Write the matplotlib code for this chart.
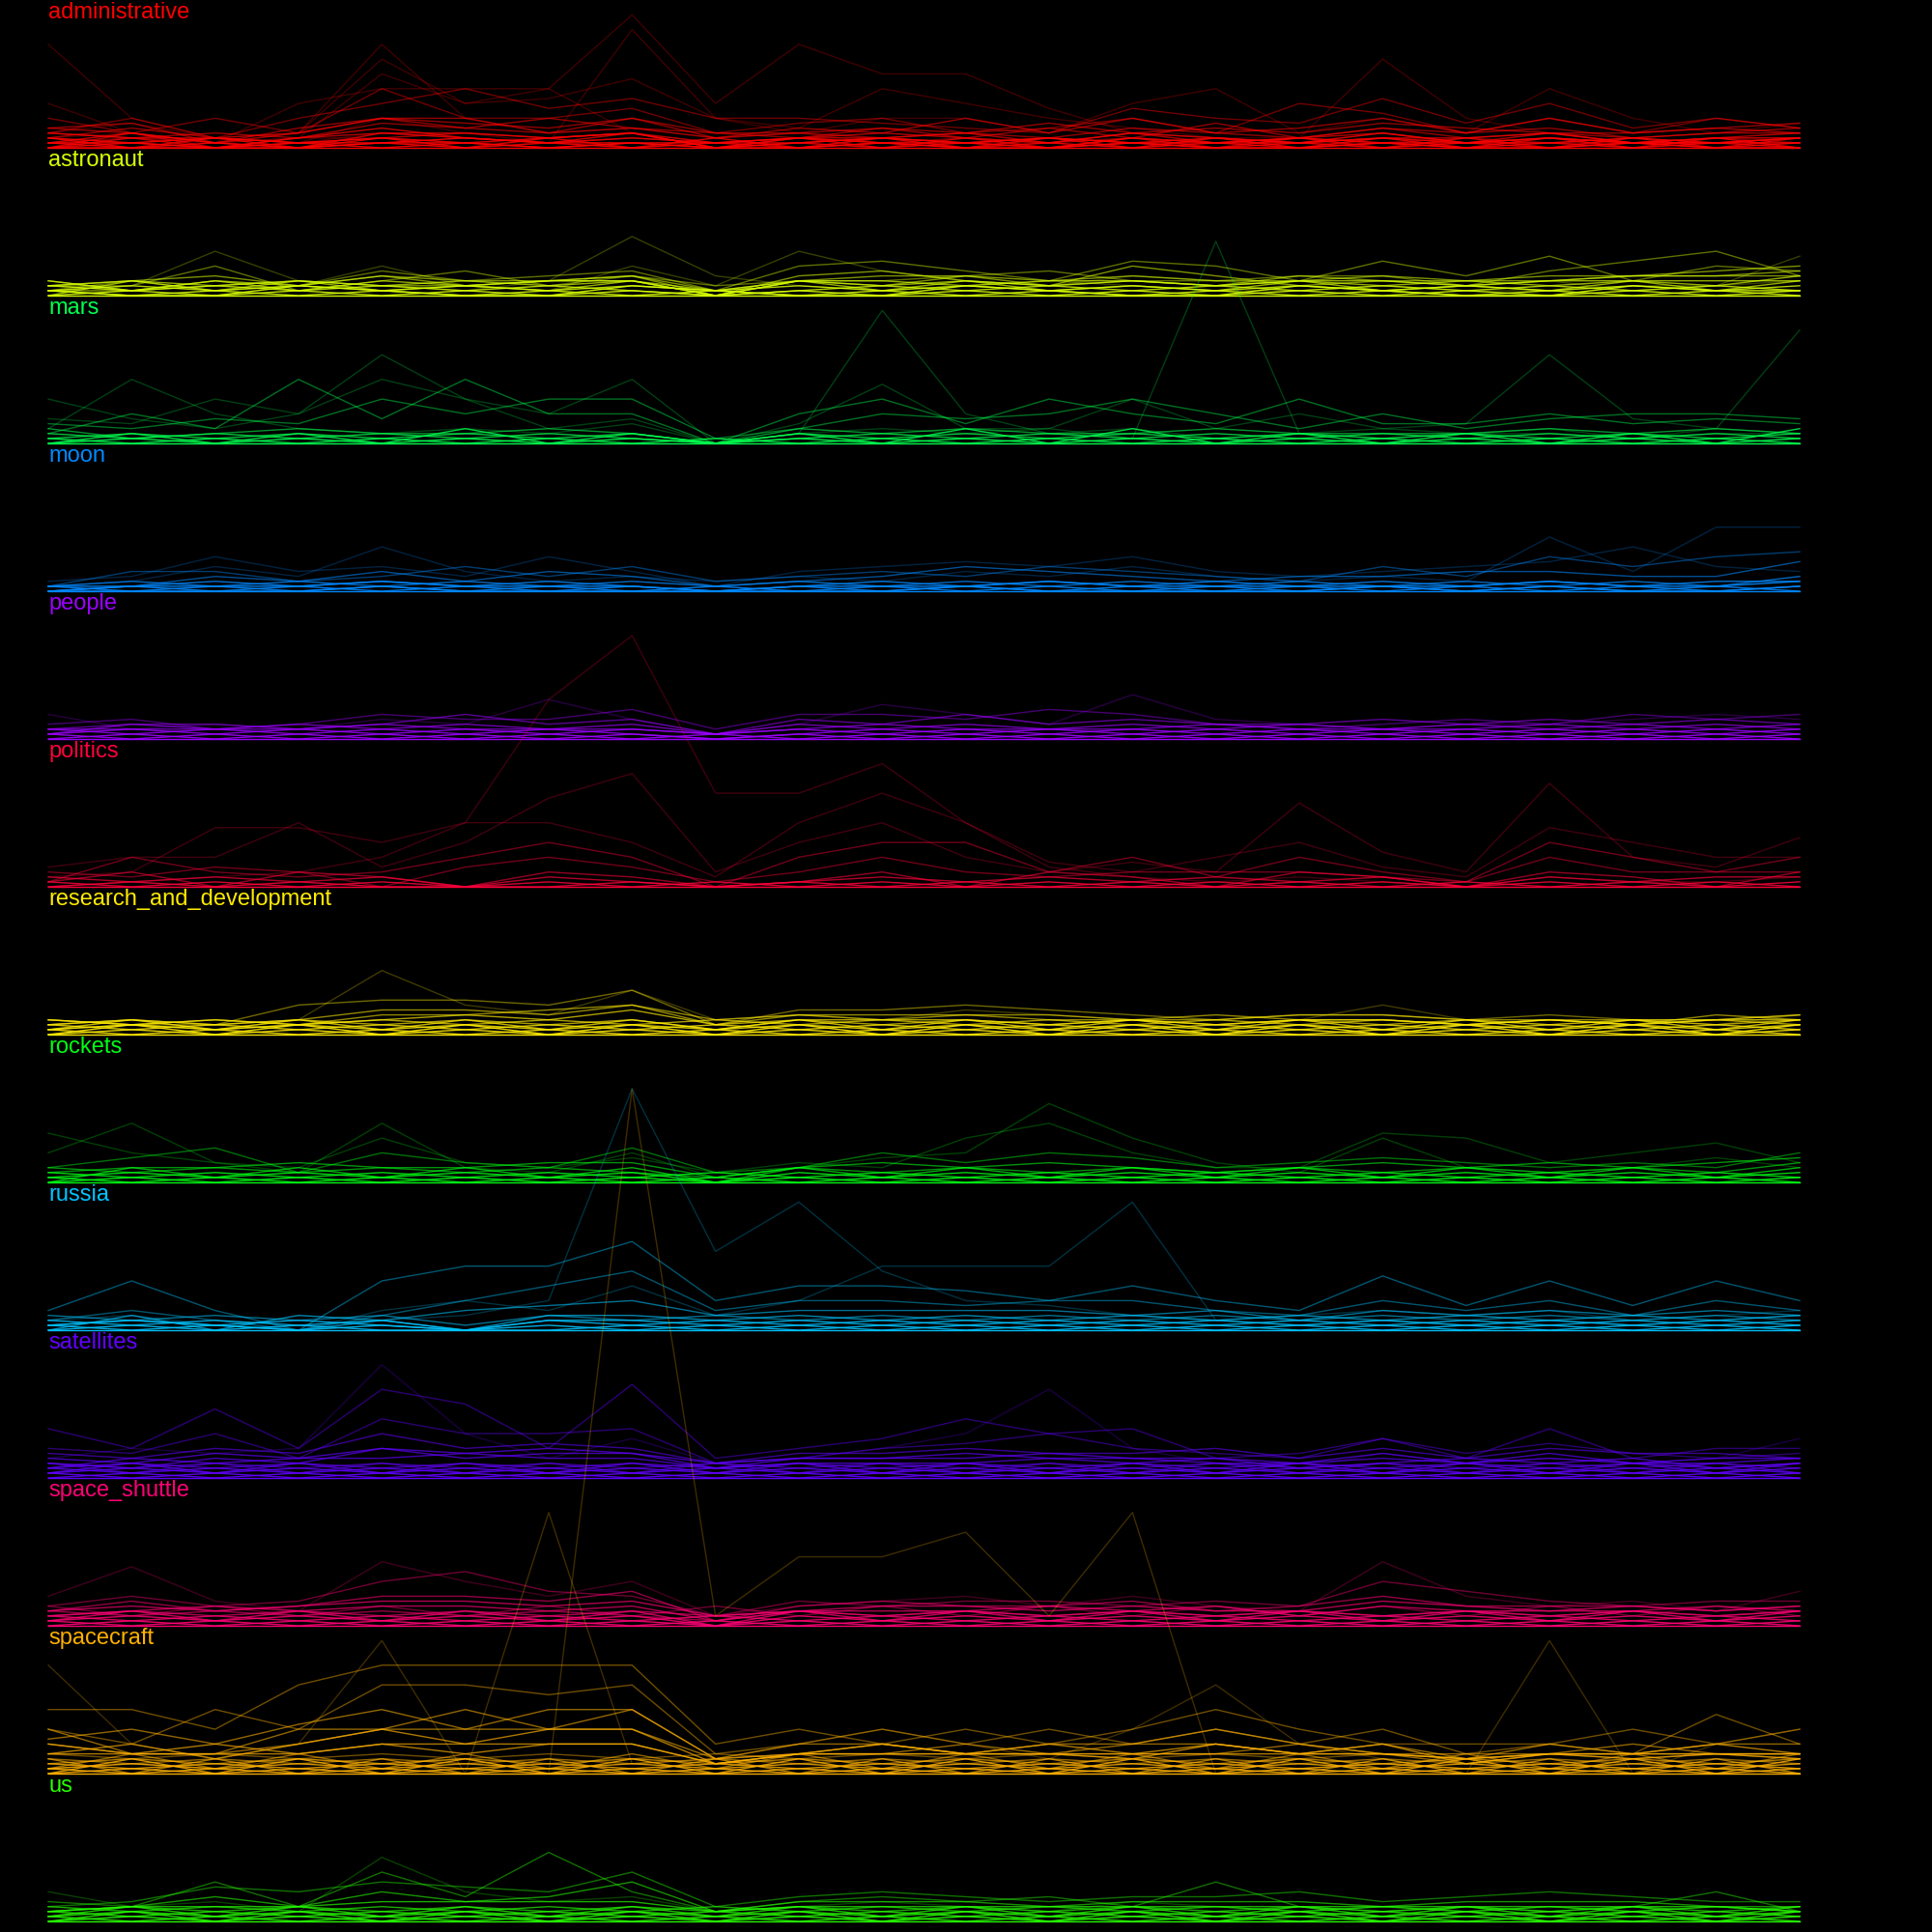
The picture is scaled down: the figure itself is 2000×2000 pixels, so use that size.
import colorsys
import numpy as np
import matplotlib
matplotlib.use('Agg')
import matplotlib.pyplot as plt

# one row per word pattern, 22 time steps; values in panel units (30 units = one panel)
# "n*..." = n words share the same counts; spaced strings are ints, plain strings one digit per step
categories = ['administrative', 'astronaut', 'mars', 'moon', 'people', 'politics',
              'research_and_development', 'rockets', 'russia', 'satellites',
              'space_shuttle', 'spacecraft', 'us']

administrative = [
    "1*21 6 2 1 3 2 1 2 1 1 2 1 1 2 1 1 2 1 1 1 2 1",
    "1*9 3 1 2 2 1 1 2 1 2 1 1 1 2 1 1 1 1 2 1 1 2",
    "1*2 3 1 3 21 6 3 4 2 3 1 2 1 3 2 1 3 1 2 1 1 2",
    "1*3 5 2 3 18 9 12 3 1 2 1 2 1 2 1 2 1 2 1 1 2 1",
    "1*1 2 1 9 12 12 12 27 9 21 15 15 8 3 2 1 1 2 1 1 1 1",
    "1*2 1 2 1 6 3 1 24 6 4 12 9 6 4 2 2 18 6 3 1 2 2",
    "1*1 2 1 2 15 9 10 14 6 3 6 6 3 9 12 3 6 3 12 6 3 5",
    "2*3 6 2 6 9 12 8 10 6 6 5 4 3 8 6 5 10 5 9 4 6 4",
    "2*6 3 6 3 12 6 6 8 3 5 6 3 4 6 3 9 7 3 6 3 6 4",
    "3*4 5 1 4 6 5 4 6 3 3 4 3 5 3 4 3 5 4 3 3 4 5",
    "3*2 4 2 3 6 6 3 6 2 4 3 6 3 6 3 4 6 3 6 3 4 3",
    "3*3 2 3 2 5 4 6 4 3 2 4 2 4 2 5 2 4 3 4 2 3 4",
    "4*0 3 0 2 3 3 2 3 0 2 2 3 1 3 1 2 3 1 3 1 2 2",
    "8*0101010101010101010101",
    "8*1010101010101010101010",
    "6*2101212301212121212112",
    "5*1310321211210211312112",
    "4*3221232312321321223123",
    "5*0202421302020202020202",
    "6*2020202020202020202020",
    "8*1121121112112112111211",
    "3*4313643423232432423233",
    "10*0000110100100100100100",
    "12*0000000000000000000000",
]

astronaut = [
    "1*1 2 9 3 2 1 3 12 4 2 1 2 3 2 1 1 2 1 1 2 2 3",
    "1*2 1 3 2 6 2 1 6 2 9 5 3 2 4 3 2 1 2 3 1 2 8",
    "2*1 3 1 2 5 3 4 5 1 6 7 5 3 7 6 3 7 4 8 3 6 5",
    "2*2 2 6 1 3 5 2 4 2 3 3 4 5 3 3 4 4 2 5 7 9 4",
    "3*1 1 2 3 2 2 3 3 0 4 5 3 2 6 4 2 3 3 3 4 5 6",
    "3*2 3 4 2 4 3 3 4 1 3 4 4 3 4 3 3 4 3 4 4 4 4",
    "4*3 1 3 1 3 2 3 3 0 3 3 2 3 3 2 3 3 2 3 3 3 3",
    "8*0101010101010101010101",
    "8*1010101010101010101010",
    "6*1212121212121212121212",
    "6*2121212101212121212121",
    "4*0313121303131213121313",
    "4*2323232313232323232324",
    "8*1002100210021002100211",
    "3*3132423403242324323445",
    "12*0000000000000000000000",
]

mars = [
    "1*9 5 3 6 13 9 3 5 0 2 27 6 2 3 1 2 1 2 2 1 3 2",
    "1*3 13 6 3 2 3 2 4 0 2 3 2 3 1 41 2 3 2 3 1 2 2",
    "1*5 4 9 6 18 9 6 13 0 4 12 3 3 9 3 6 3 4 18 5 3 23",
    "2*2 6 3 13 5 13 6 6 0 6 9 4 9 6 4 9 4 4 6 4 5 4",
    "2*4 3 5 4 9 6 9 9 1 3 6 5 6 9 6 3 6 3 5 6 6 5",
    "8*0101010101010101010101",
    "8*1010101010101010101010",
    "5*1212121202121212121212",
    "5*2121212101212121212121",
    "6*0202030202030302020203",
    "3*3123223203232232223232",
    "12*0000000000000000000000",
]

moon = [
    "1*1 2 5 3 9 4 2 3 2 3 2 4 3 5 3 2 3 2 11 4 13 13",
    "1*2 3 7 4 5 3 7 4 1 4 5 6 5 7 4 3 4 5 6 9 5 4",
    "2*1 4 4 2 3 5 3 5 2 3 4 3 5 4 3 2 5 3 7 5 7 8",
    "3*0 1 3 2 4 2 4 3 1 2 3 5 4 3 2 3 3 4 4 3 3 6",
    "8*0101010101010101010101",
    "8*1010101010101010101010",
    "8*1111211101112111112112",
    "6*0121212101212121212122",
    "5*1212121212121212121213",
    "10*0000100000010000101001",
    "12*0000000000000000000000",
]

people = [
    "1*5 2 3 2 4 3 8 4 1 3 7 5 3 9 4 3 2 3 3 4 5 4",
    "2*3 4 2 3 5 4 4 6 2 5 5 4 6 5 3 2 3 4 3 5 4 5",
    "3*2 3 3 2 3 5 3 4 1 4 3 5 3 4 3 3 4 3 4 3 4 3",
    "8*0101010101010101010101",
    "8*1010101010101010101010",
    "6*1212121212121212121212",
    "6*2121212101212121212121",
    "4*1323232313232323232323",
    "4*2222322212322232223232",
    "12*0000000000000000000000",
]

politics = [
    "1*0 1 2 3 6 13 38 51 19 19 25 13 4 2 1 2 1 0 2 1 1 2",
    "1*4 6 6 13 4 9 18 23 3 9 13 6 3 5 3 17 7 3 21 6 4 10",
    "1*2 3 12 12 9 13 13 9 2 13 19 13 5 3 6 9 4 2 12 9 6 6",
    "2*1 6 3 2 3 6 9 6 0 6 9 9 3 6 2 6 3 1 9 6 3 3",
    "2*3 2 4 3 0 4 6 4 1 3 6 3 2 3 3 3 2 1 6 3 3 6",
    "6*0101000101010101010101",
    "6*1010101010101010101010",
    "4*2121202101212121202122",
    "3*1303203201303203203203",
    "12*0000000000000000000000",
]

research_and_development = [
    "1*2 3 1 3 13 6 4 9 3 4 3 5 4 3 2 3 6 3 2 3 2 4",
    "2*3 2 2 6 7 7 6 9 2 5 5 6 5 4 3 4 4 3 4 3 3 4",
    "3*1 2 1 2 4 4 5 6 3 4 4 4 3 3 4 3 3 2 3 2 4 3",
    "3*2 3 2 3 5 5 4 6 2 4 3 4 4 3 3 4 4 3 3 3 3 4",
    "4*3 2 3 2 3 4 3 5 2 3 3 3 2 3 2 3 3 2 3 2 3 3",
    "8*0101010101010101010101",
    "8*1010101010101010101010",
    "6*1212121212121212121212",
    "6*2121212121212121212121",
    "4*2323232313232323232323",
    "4*3232323232323232323232",
    "5*1313131313131313131313",
    "8*0202020202020202020202",
    "12*0000000000000000000000",
]

rockets = [
    "1*10 6 4 2 12 3 2 6 1 3 5 6 16 9 4 2 9 3 2 3 5 3",
    "1*6 12 4 3 9 4 3 5 2 4 3 9 12 6 3 3 10 9 4 6 8 4",
    "2*3 5 7 2 6 4 3 7 2 3 6 4 6 5 3 4 5 4 3 4 3 6",
    "3*2 3 3 4 3 3 4 4 1 3 4 3 4 3 2 3 4 3 4 3 4 5",
    "8*0101010101010101010101",
    "8*1010101010101010101010",
    "6*1212121202121212121212",
    "6*2121212121212121212121",
    "3*3232323213232323232324",
    "4*0313131303131313131313",
    "12*0000000000000000000000",
]

russia = [
    "1*1 2 1 0 2 3 6 49 16 26 12 6 5 3 2 1 2 1 2 1 2 3",
    "1*2 3 1 0 4 6 4 9 3 6 13 13 13 26 2 3 4 3 4 2 3 4",
    "2*4 10 4 0 10 13 13 18 6 9 9 8 6 9 6 4 11 5 10 5 10 6",
    "2*2 4 2 0 3 6 9 12 4 6 6 5 6 6 4 3 6 4 6 3 6 4",
    "3*1 2 1 0 2 4 5 6 3 4 4 4 4 3 4 2 4 3 4 3 4 3",
    "8*0101000101010101010101",
    "8*1010101010101010101010",
    "6*1212102212121212121212",
    "6*2121202121212121212121",
    "4*0303203323232323232323",
    "3*3232313232323232323232",
    "12*0000000000000000000000",
]

satellites = [
    "1*4 6 5 6 23 9 4 8 3 4 6 9 18 6 3 2 5 3 4 3 4 8",
    "2*10 6 14 6 18 15 6 19 4 6 8 12 9 10 4 5 8 4 10 4 6 6",
    "2*6 5 9 4 12 9 9 10 3 4 6 7 9 6 5 4 8 5 7 5 4 5",
    "3*5 4 6 5 9 6 7 6 3 5 5 6 5 5 6 4 6 4 6 5 5 4",
    "4*3 2 4 3 6 4 5 5 2 4 4 4 5 4 3 3 4 3 4 3 3 4",
    "4*4 3 5 4 6 5 6 5 3 4 4 5 4 4 4 3 5 3 5 3 4 4",
    "4*2 4 3 4 4 5 4 4 2 3 3 3 4 3 4 2 3 4 3 4 2 3",
    "8*0101010101010101010101",
    "8*1010101010101010101010",
    "6*1212121212121212121212",
    "6*2121212121212121212121",
    "3*3232323232323232323232",
    "4*2323232323232323232323",
    "5*1313131313131313131313",
    "3*3131313131313131313131",
    "12*0000000000000000000000",
]

space_shuttle = [
    "1*6 12 5 3 13 9 6 9 2 4 5 6 4 6 4 3 13 6 4 5 3 7",
    "2*4 6 4 5 9 11 7 6 2 5 4 5 5 4 5 4 9 7 5 4 5 5",
    "3*3 5 3 4 6 6 5 7 1 4 5 4 4 5 3 4 6 4 4 4 3 4",
    "4*3 4 3 4 5 5 4 5 2 3 4 4 3 4 3 3 5 4 3 4 3 4",
    "4*2 3 4 3 4 4 3 4 1 3 3 3 4 3 4 2 4 3 3 3 4 3",
    "8*0101010101010101010101",
    "8*1010101010101010101010",
    "6*1212121202121212121212",
    "6*2121212121212121212121",
    "3*3232323213232323232323",
    "4*2323232323232323232323",
    "5*1313131303131313131313",
    "2*4242424242424242424242",
    "12*0000000000000000000000",
]

spacecraft = [
    "1*1 2 1 3 2 3 0 139 32 44 44 49 32 53 0 1 2 1 2 1 2 1",
    "1*22 6 3 6 27 0 53 2 3 6 9 6 3 9 18 6 3 0 27 0 6 9",
    "2*13 13 9 18 22 22 22 22 6 9 6 9 6 9 13 9 6 6 6 4 12 6",
    "2*9 6 13 9 18 18 16 18 4 6 9 6 9 6 9 6 9 4 6 9 6 9",
    "3*7 9 6 10 13 9 13 13 3 6 6 4 6 6 6 4 6 3 6 4 6 6",
    "3*6 4 4 6 9 13 9 9 3 4 4 6 4 6 9 6 4 4 4 6 4 4",
    "4*4 6 3 6 9 6 9 9 2 4 6 4 4 3 6 4 4 3 4 3 4 3",
    "4*4 4 4 4 6 6 6 6 2 4 4 4 4 4 4 4 4 3 4 4 4 4",
    "4*6 4 6 4 6 4 6 6 2 4 6 4 6 4 6 4 6 2 4 4 6 4",
    "3*9 4 4 9 9 9 9 13 3 4 4 4 4 4 4 6 4 2 4 4 4 4",
    "8*0101010101010101010101",
    "8*1010101010101010101010",
    "6*1212121212121212121212",
    "6*2121212121212121212121",
    "3*3232323232323232323232",
    "4*2323232323232323232323",
    "6*0303030303030303030303",
    "4*3030303030303030303030",
    "2*4343434343434343434343",
    "3*1414141414141414141414",
    "12*0000000000000000000000",
]

us = [
    "1*6 3 4 2 13 6 4 5 2 3 4 3 2 4 3 2 3 2 3 2 3 2",
    "2*4 3 8 3 10 5 14 6 2 4 5 4 5 3 8 3 2 3 2 3 6 2",
    "2*3 4 7 6 8 7 6 10 3 5 6 5 4 5 5 6 4 5 6 5 4 4",
    "3*2 3 5 3 6 4 5 8 2 4 4 4 3 4 4 4 3 4 4 4 3 3",
    "4*2 3 3 3 4 4 4 4 2 3 3 3 3 3 3 3 3 3 3 3 3 2",
    "8*0101010101010101010101",
    "8*1010101010101010101010",
    "6*1212121212121212121212",
    "6*2121212121212121212121",
    "4*2323232323232323232323",
    "4*3232323232323232323232",
    "5*1313131313131313131313",
    "6*0202020202020202020202",
    "12*0000000000000000000000",
]

panels = [administrative, astronaut, mars, moon, people, politics,
          research_and_development, rockets, russia, satellites,
          space_shuttle, spacecraft, us]


def parse(s):
    n, vals = s.split('*')
    if ' ' in vals:
        return int(n), [int(t) for t in vals.split()]
    return int(n), [int(c) for c in vals]


fig = plt.figure(figsize=(20, 20), dpi=100, facecolor='black')
n_cat = len(categories)
ph = 153 / 2000  # panel height as figure fraction
base_alpha = 0.25

for i, (name, rows) in enumerate(zip(categories, panels)):
    color = colorsys.hsv_to_rgb((i * 2.5 / n_cat) % 1, 1, 1)
    ax = fig.add_axes([0.025, 1 - (i + 1) * ph, 0.9065, ph])
    ax.axis('off')
    ax.set_xlim(0, 21)
    ax.set_ylim(0, 30)
    for s in rows:
        count, v = parse(s)
        assert len(v) == 22, (name, s)
        # stacked identical words add up their transparency
        a = 1 - (1 - base_alpha) ** count
        ax.plot(np.arange(22), v, color=color, alpha=a, lw=1.0, clip_on=False)
    ax.text(0, 1 - 2 / 153, name, transform=ax.transAxes, va='top', ha='left',
            color=color, fontsize=17, family=['Liberation Sans', 'DejaVu Sans'])

fig.savefig('out.png', dpi=100, facecolor='black')
